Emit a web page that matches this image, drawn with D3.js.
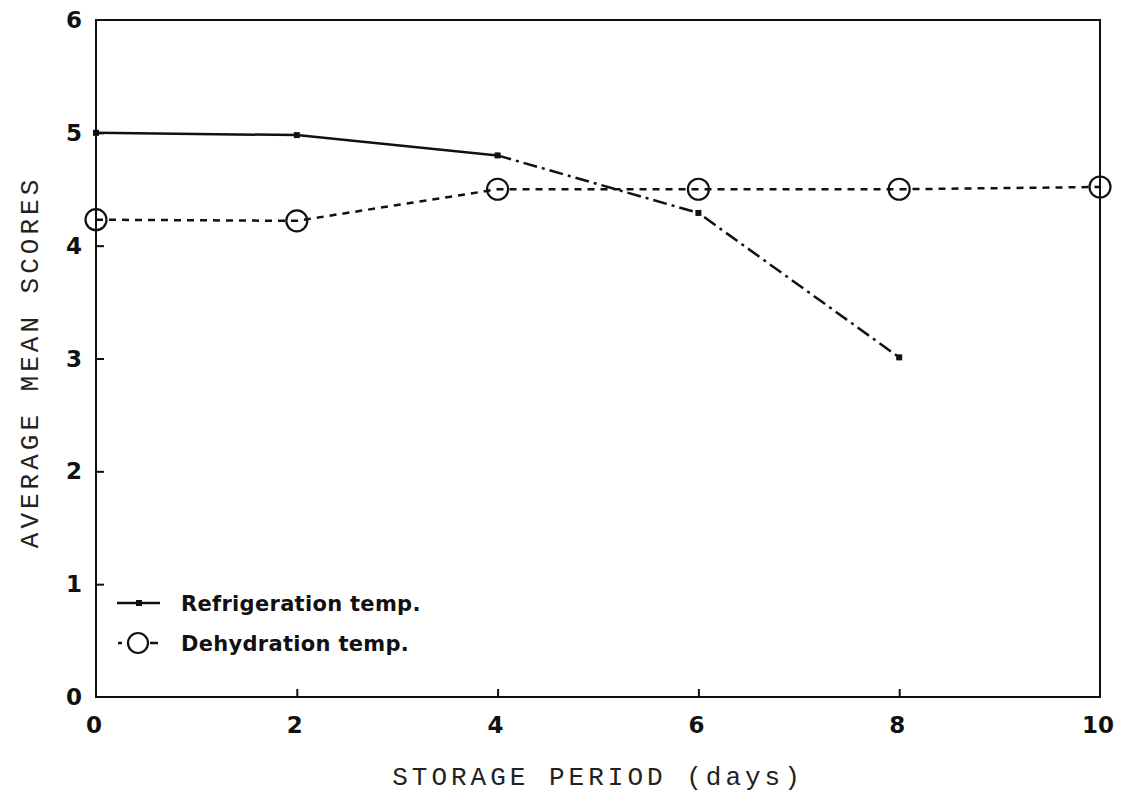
<!DOCTYPE html>
<html>
<head>
<meta charset="utf-8">
<script src="https://cdn.jsdelivr.net/npm/d3@7"></script>
<style>
  body { margin: 0; background: #fff; }
  .tick-lab { font-family: "DejaVu Sans", sans-serif; font-weight: bold; font-size: 23px; fill: #111; }
  .axis-title { font-family: "Liberation Mono", "DejaVu Sans Mono", monospace; font-size: 26px; letter-spacing: 4px; fill: #222; }
  .legend-lab { font-family: "DejaVu Sans", sans-serif; font-weight: bold; font-size: 21px; letter-spacing: 0.3px; fill: #111; }
</style>
</head>
<body>
<svg id="chart" width="1128" height="796"></svg>
<script>
// storage period (days)
var daysRefrig = [0, 2, 4, 6, 8];
var scoreRefrig = [5.0, 4.98, 4.80, 4.29, 3.01];
var daysDehyd = [0, 2, 4, 6, 8, 10];
var scoreDehyd = [4.23, 4.22, 4.50, 4.50, 4.50, 4.52];
var xTicks = [0, 2, 4, 6, 8, 10];
var yTicks = [0, 1, 2, 3, 4, 5, 6];
var seriesNames = ["Refrigeration temp.", "Dehydration temp."];

var svg = d3.select("#chart");
var plotL = 96, plotR = 1100, plotT = 20, plotB = 697;

var x = d3.scaleLinear().domain([0, 10]).range([plotL, plotR]);
var y = d3.scaleLinear().domain([0, 6]).range([plotB, plotT]);

// frame
svg.append("rect")
  .attr("x", plotL).attr("y", plotT)
  .attr("width", plotR - plotL).attr("height", plotB - plotT)
  .attr("fill", "none").attr("stroke", "#111").attr("stroke-width", 2);

// inward ticks, labels drawn separately
var xAxis = d3.axisTop(x).tickValues(xTicks.slice(1, -1)).tickSize(8).tickFormat("");
svg.append("g").attr("transform", "translate(0," + plotB + ")").call(xAxis)
  .call(function(g){ g.select(".domain").remove(); })
  .selectAll("line").attr("stroke", "#111").attr("stroke-width", 2);

var yAxis = d3.axisRight(y).tickValues(yTicks.slice(1, -1)).tickSize(8).tickFormat("");
svg.append("g").attr("transform", "translate(" + plotL + ",0)").call(yAxis)
  .call(function(g){ g.select(".domain").remove(); })
  .selectAll("line").attr("stroke", "#111").attr("stroke-width", 2);

svg.selectAll(".xlab").data(xTicks).enter().append("text")
  .attr("class", "tick-lab")
  .attr("x", function(d){ return x(d) - 2; })
  .attr("y", plotB + 36)
  .attr("text-anchor", "middle")
  .text(function(d){ return d; });

svg.selectAll(".ylab").data(yTicks).enter().append("text")
  .attr("class", "tick-lab")
  .attr("x", 82)
  .attr("y", function(d){ return y(d) + 8; })
  .attr("text-anchor", "end")
  .text(function(d){ return d; });

// axis titles
svg.append("text").attr("class", "axis-title")
  .attr("x", 598).attr("y", 785)
  .attr("text-anchor", "middle")
  .text("STORAGE PERIOD (days)");

svg.append("text").attr("class", "axis-title")
  .attr("transform", "translate(38,362) rotate(-90)")
  .attr("text-anchor", "middle")
  .text("AVERAGE MEAN SCORES");

var line = d3.line()
  .x(function(d){ return x(d[0]); })
  .y(function(d){ return y(d[1]); });

// refrigeration: solid up to day 4, dash-dot after
var refPts = daysRefrig.map(function(d, i){ return [d, scoreRefrig[i]]; });
svg.append("path").datum(refPts.slice(0, 3)).attr("d", line)
  .attr("fill", "none").attr("stroke", "#111").attr("stroke-width", 2.5);
svg.append("path").datum(refPts.slice(2)).attr("d", line)
  .attr("fill", "none").attr("stroke", "#111").attr("stroke-width", 2.5)
  .attr("stroke-dasharray", "14,5,3,5");
svg.selectAll(".refm").data(refPts).enter().append("rect")
  .attr("x", function(d){ return x(d[0]) - 3; })
  .attr("y", function(d){ return y(d[1]) - 3; })
  .attr("width", 6).attr("height", 6).attr("fill", "#111");

// dehydration: dashed with open circles
var dehPts = daysDehyd.map(function(d, i){ return [d, scoreDehyd[i]]; });
svg.append("path").datum(dehPts).attr("d", line)
  .attr("fill", "none").attr("stroke", "#111").attr("stroke-width", 2.5)
  .attr("stroke-dasharray", "7,6");
svg.selectAll(".dehm").data(dehPts).enter().append("circle")
  .attr("cx", function(d){ return x(d[0]); })
  .attr("cy", function(d){ return y(d[1]); })
  .attr("r", 10.5).attr("fill", "none").attr("stroke", "#111").attr("stroke-width", 2.2);

// legend
var lg = svg.append("g");
lg.append("line").attr("x1", 117).attr("x2", 160).attr("y1", 603).attr("y2", 603)
  .attr("stroke", "#111").attr("stroke-width", 2.5);
lg.append("rect").attr("x", 136).attr("y", 600).attr("width", 6).attr("height", 6).attr("fill", "#111");
lg.append("line").attr("x1", 118).attr("x2", 122).attr("y1", 643).attr("y2", 643)
  .attr("stroke", "#111").attr("stroke-width", 2.5);
lg.append("line").attr("x1", 150).attr("x2", 158).attr("y1", 643).attr("y2", 643)
  .attr("stroke", "#111").attr("stroke-width", 2.5);
lg.append("circle").attr("cx", 138).attr("cy", 643).attr("r", 10)
  .attr("fill", "none").attr("stroke", "#111").attr("stroke-width", 2.2);
lg.selectAll(".legt").data(seriesNames).enter().append("text")
  .attr("class", "legend-lab")
  .attr("x", 181)
  .attr("y", function(d, i){ return 611 + i * 40; })
  .text(function(d){ return d; });
</script>
</body>
</html>
